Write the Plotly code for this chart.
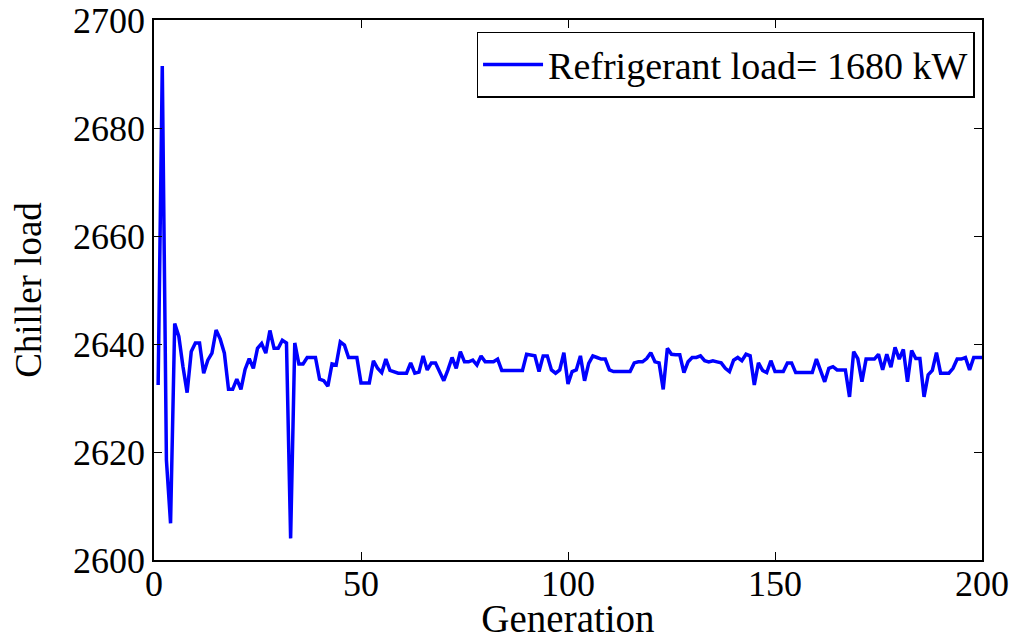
import plotly.graph_objects as go

generations = list(range(1, 201))

chiller_load = [
    # 1-10
    2632.4, 2691.5, 2618.5, 2606.8, 2643.8, 2641.4, 2635.8, 2631.0, 2638.6, 2640.2,
    # 11-20
    2640.2, 2634.6, 2637.0, 2638.3, 2642.6, 2640.9, 2638.3, 2631.6, 2631.6, 2633.5,
    # 21-30
    2631.6, 2635.3, 2637.3, 2635.5, 2639.2, 2640.1, 2638.3, 2642.5, 2639.2, 2639.2,
    # 31-40
    2640.7, 2640.2, 2604.0, 2640.2, 2636.3, 2636.3, 2637.5, 2637.5, 2637.5, 2633.5,
    # 41-50
    2633.2, 2632.2, 2636.3, 2636.1, 2640.4, 2639.8, 2637.5, 2637.5, 2637.5, 2632.8,
    # 51-60
    2632.8, 2632.8, 2636.9, 2635.5, 2634.7, 2637.2, 2635.1, 2634.9, 2634.6, 2634.6,
    # 61-70
    2634.6, 2636.5, 2634.6, 2634.8, 2637.8, 2635.2, 2636.5, 2636.5, 2634.9, 2633.2,
    # 71-80
    2635.2, 2637.5, 2635.5, 2638.6, 2636.7, 2636.7, 2637.0, 2636.1, 2637.8, 2636.7,
    # 81-90
    2636.7, 2636.7, 2637.2, 2635.1, 2635.1, 2635.1, 2635.1, 2635.1, 2635.1, 2638.1,
    # 91-100
    2637.9, 2637.8, 2634.9, 2637.8, 2637.8, 2635.2, 2634.6, 2635.2, 2638.4, 2632.6,
    # 101-110
    2634.9, 2635.2, 2637.8, 2633.2, 2636.4, 2637.8, 2637.5, 2637.2, 2637.2, 2635.2,
    # 111-120
    2634.9, 2634.9, 2634.9, 2634.9, 2634.9, 2636.5, 2636.7, 2636.7, 2637.3, 2638.4,
    # 121-130
    2636.7, 2636.5, 2631.6, 2639.2, 2638.1, 2638.0, 2638.0, 2634.7, 2636.7, 2637.5,
    # 131-140
    2637.5, 2637.8, 2636.9, 2636.7, 2636.9, 2636.7, 2636.5, 2635.5, 2634.9, 2637.0,
    # 141-150
    2637.5, 2636.9, 2638.1, 2637.8, 2632.4, 2636.5, 2635.1, 2634.7, 2636.9, 2634.9,
    # 151-160
    2634.9, 2634.9, 2636.5, 2636.5, 2634.7, 2634.7, 2634.7, 2634.7, 2634.7, 2637.2,
    # 161-170
    2634.9, 2633.0, 2635.5, 2635.8, 2635.2, 2635.2, 2635.2, 2630.2, 2638.6, 2637.3,
    # 171-180
    2633.0, 2637.2, 2637.2, 2637.2, 2638.1, 2635.2, 2638.1, 2635.7, 2639.4, 2637.2,
    # 181-190
    2639.0, 2633.0, 2638.8, 2637.3, 2637.3, 2630.2, 2634.3, 2635.1, 2638.4, 2634.6,
    # 191-200
    2634.6, 2634.6, 2635.5, 2637.2, 2637.2, 2637.5, 2635.2, 2637.5, 2637.5, 2637.5,
]

x_ticks = [0, 50, 100, 150, 200]
y_ticks = [2600, 2620, 2640, 2660, 2680, 2700]
series_name = "Refrigerant load= 1680 kW"

FONT = "Liberation Serif, Times New Roman, serif"

fig = go.Figure()
fig.add_trace(go.Scatter(
    x=generations, y=chiller_load, mode="lines", name=series_name,
    line=dict(color="#0000FF", width=3.5),
))

axis_common = dict(
    showline=True, linecolor="black", linewidth=1.5, mirror="ticks",
    ticks="inside", ticklen=8, tickcolor="black", tickwidth=1,
    showgrid=False, zeroline=False, automargin=False,
    ticklabeloverflow="allow",
    tickfont=dict(family=FONT, size=36, color="black"),
)

fig.update_layout(
    width=1010, height=632,
    margin=dict(l=146, r=36, t=12, b=80),
    paper_bgcolor="white", plot_bgcolor="white",
    showlegend=True,
    legend=dict(
        x=0.991, y=0.978, xanchor="right", yanchor="top",
        bgcolor="white", bordercolor="black", borderwidth=1.5,
        font=dict(family=FONT, size=38, color="black"),
        itemwidth=60,
    ),
    xaxis=dict(
        range=[0, 200], tickvals=x_ticks, ticklabelstandoff=-9,
        title=dict(text="Generation", font=dict(family=FONT, size=39, color="black"), standoff=13),
        **axis_common,
    ),
    yaxis=dict(
        range=[2600, 2700], tickvals=y_ticks,
        title=dict(text="Chiller load", font=dict(family=FONT, size=37, color="black"), standoff=31),
        **axis_common,
    ),
)

fig.write_html("out.html")
